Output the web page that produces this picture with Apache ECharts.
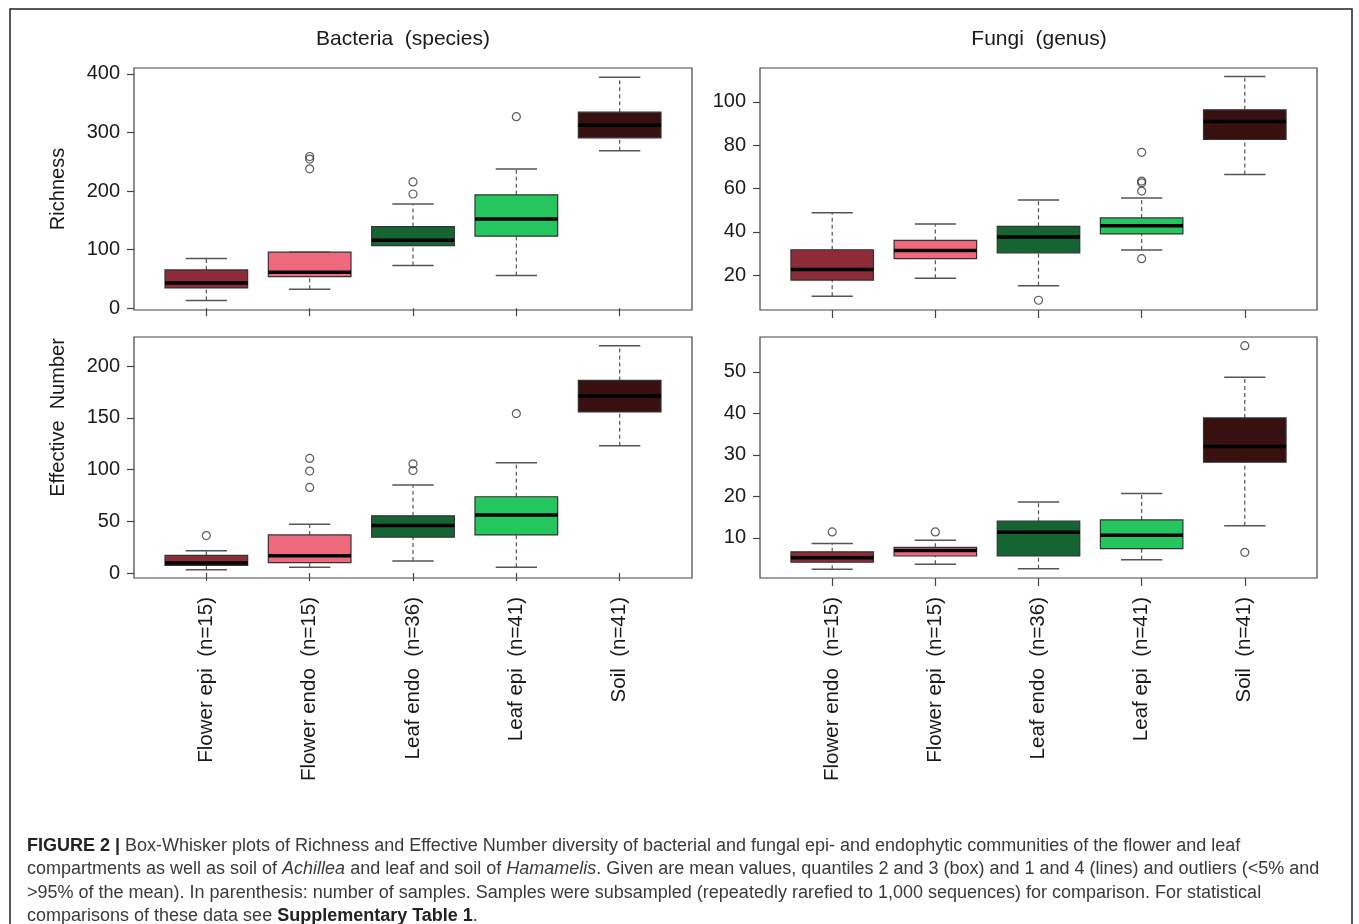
<!DOCTYPE html>
<html><head><meta charset="utf-8">
<script src="https://cdn.jsdelivr.net/npm/echarts@6/dist/echarts.min.js"></script>
<style>html,body{margin:0;padding:0;background:#fff}#c{width:1359px;height:924px}</style>
</head><body><div id="c"></div>
<script>
// ---------- data ----------
const bacteriaCategories = ['Flower epi  (n=15)', 'Flower endo  (n=15)', 'Leaf endo  (n=36)', 'Leaf epi  (n=41)', 'Soil  (n=41)'];
const fungiCategories = ['Flower endo  (n=15)', 'Flower epi  (n=15)', 'Leaf endo  (n=36)', 'Leaf epi  (n=41)', 'Soil  (n=41)'];
const boxColors = ['#8D2B38', '#EF697C', '#156532', '#24C65D', '#381010'];

// each box: [lower whisker, Q1, median, Q3, upper whisker]
const bacteriaRichness = [[13, 34.7, 43, 65.4, 85], [32.4, 54, 61.5, 95.6, 95.6], [72.8, 107, 116, 139.4, 178], [55.8, 123, 152.5, 193.5, 237.8], [268.6, 290.8, 312.4, 334.6, 394.3]];
const bacteriaRichnessOutliers = [[2, 259], [2, 254.5], [2, 238], [3, 215.6], [3, 195], [4, 327]];
const fungiRichness = [[10.3, 17.7, 22.6, 31.7, 48.8], [18.6, 27.6, 31.4, 36.0, 43.6], [15.1, 30.3, 37.6, 42.5, 54.7], [31.6, 39.0, 42.8, 46.4, 55.6], [66.4, 82.6, 90.9, 96.3, 111.7]];
const fungiRichnessOutliers = [[3, 8.4], [4, 76.7], [4, 63.4], [4, 62.6], [4, 58.8], [4, 27.6]];
const bacteriaEffective = [[3.2, 7.4, 9.8, 17.1, 21.6], [5.5, 10.0, 16.8, 36.8, 47.2], [11.6, 34.6, 45.9, 55.3, 85], [5.5, 36.8, 56.2, 73.7, 106.6], [123.1, 155.7, 171.2, 186.1, 219.7]];
const bacteriaEffectiveOutliers = [[1, 36.2], [2, 110.8], [2, 98.5], [2, 82.7], [3, 105.5], [3, 99], [4, 154.1]];
const fungiEffective = [[2.4, 4.1, 5.2, 6.6, 8.6], [3.6, 5.6, 6.9, 7.7, 9.4], [2.5, 5.6, 11.3, 14.0, 18.6], [4.7, 7.4, 10.6, 14.3, 20.7], [12.9, 28.2, 32.0, 38.9, 48.7]];
const fungiEffectiveOutliers = [[1, 11.4], [2, 11.4], [5, 56.3], [5, 6.5]];

const yTicksBR = [0, 100, 200, 300, 400];
const yTicksFR = [20, 40, 60, 80, 100];
const yTicksBE = [0, 50, 100, 150, 200];
const yTicksFE = [10, 20, 30, 40, 50];
const yRanges = [[-3, 410], [3.9, 115.6], [-4.8, 228.1], [0.3, 58.4]];

// ---------- chart ----------
const FONT = '"Liberation Sans", Arial, sans-serif';
const TXT = '#1a1a1a';
const chart = echarts.init(document.getElementById('c'), null, {renderer: 'canvas'});

const grids = [
  {left: 134, top: 68, width: 558, height: 242},
  {left: 760, top: 68, width: 557, height: 242},
  {left: 134, top: 337, width: 558, height: 241},
  {left: 760, top: 337, width: 557, height: 241}
].map(g => Object.assign(g, {show: true, borderColor: '#444', borderWidth: 1.2, backgroundColor: 'transparent'}));

const catIdx = [1, 2, 3, 4, 5];
function xAxisFor(gi, cats, showLabels) {
  return {
    type: 'value', gridIndex: gi, min: 0.3, max: 5.7,
    splitLine: {show: false}, axisLine: {show: false},
    axisTick: {show: true, customValues: catIdx, length: 8, lineStyle: {color: '#444', width: 1.2}},
    axisLabel: {show: showLabels, customValues: catIdx, rotate: 90, margin: 19, fontSize: 20.5, color: TXT, fontFamily: FONT,
      formatter: v => cats[Math.round(v) - 1]}
  };
}
function yAxisFor(gi, ticks, range, name, namePad) {
  return {
    type: 'value', gridIndex: gi, min: range[0], max: range[1],
    splitLine: {show: false}, axisLine: {show: false},
    axisTick: {show: true, customValues: ticks, length: 7, lineStyle: {color: '#444', width: 1.2}},
    axisLabel: {customValues: ticks, fontSize: 20, color: TXT, fontFamily: FONT, margin: 14},
    name: name || '', nameLocation: 'middle', nameGap: 66,
    nameTextStyle: {fontSize: 20, color: TXT, fontFamily: FONT, padding: namePad || 0}
  };
}

function boxData(arr) { return arr.map((b, i) => [i + 1].concat(b)); }

function renderBox(params, api) {
  const x = api.value(0);
  const lo = api.coord([x, api.value(1)]);
  const q1 = api.coord([x, api.value(2)]);
  const md = api.coord([x, api.value(3)]);
  const q3 = api.coord([x, api.value(4)]);
  const hi = api.coord([x, api.value(5)]);
  const bw = api.size([0.8, 0])[0];
  const sw = bw / 2;
  const cx = lo[0];
  const dash = {stroke: '#555', lineWidth: 1.2, lineDash: [4, 3]};
  const solid = {stroke: '#555', lineWidth: 1.5};
  return {
    type: 'group',
    children: [
      {type: 'line', shape: {x1: cx, y1: q3[1], x2: cx, y2: hi[1]}, style: dash},
      {type: 'line', shape: {x1: cx, y1: lo[1], x2: cx, y2: q1[1]}, style: dash},
      {type: 'line', shape: {x1: cx - sw / 2, y1: hi[1], x2: cx + sw / 2, y2: hi[1]}, style: solid},
      {type: 'line', shape: {x1: cx - sw / 2, y1: lo[1], x2: cx + sw / 2, y2: lo[1]}, style: solid},
      {type: 'rect', shape: {x: cx - bw / 2, y: q3[1], width: bw, height: q1[1] - q3[1]},
        style: {fill: boxColors[params.dataIndex], stroke: '#333', lineWidth: 1.2}},
      {type: 'line', shape: {x1: cx - bw / 2, y1: md[1], x2: cx + bw / 2, y2: md[1]}, style: {stroke: '#000', lineWidth: 3.5}}
    ]
  };
}

function boxSeries(gi, arr) {
  return {type: 'custom', xAxisIndex: gi, yAxisIndex: gi, data: boxData(arr), renderItem: renderBox,
    encode: {x: 0, y: [1, 2, 3, 4, 5]}, clip: false, silent: true};
}
function outlierSeries(gi, arr) {
  return {type: 'scatter', xAxisIndex: gi, yAxisIndex: gi, data: arr, symbol: 'circle', symbolSize: 8,
    itemStyle: {color: 'rgba(0,0,0,0)', borderColor: '#333', borderWidth: 1.2}, silent: true, z: 5};
}

const caption =
  '{b|FIGURE 2 |} Box-Whisker plots of Richness and Effective Number diversity of bacterial and fungal epi- and endophytic communities of the flower and leaf\n' +
  'compartments as well as soil of {i|Achillea} and leaf and soil of {i|Hamamelis}. Given are mean values, quantiles 2 and 3 (box) and 1 and 4 (lines) and outliers (<5% and\n' +
  '>95% of the mean). In parenthesis: number of samples. Samples were subsampled (repeatedly rarefied to 1,000 sequences) for comparison. For statistical\n' +
  'comparisons of these data see {b|Supplementary Table 1}.';

chart.setOption({
  animation: false,
  backgroundColor: '#fff',
  title: [
    {text: 'Bacteria  (species)', left: 398, top: 24, textAlign: 'center', textStyle: {fontSize: 21, fontWeight: 'normal', color: TXT, fontFamily: FONT}},
    {text: 'Fungi  (genus)', left: 1034, top: 24, textAlign: 'center', textStyle: {fontSize: 21, fontWeight: 'normal', color: TXT, fontFamily: FONT}}
  ],
  grid: grids,
  xAxis: [
    xAxisFor(0, bacteriaCategories, false),
    xAxisFor(1, fungiCategories, false),
    xAxisFor(2, bacteriaCategories, true),
    xAxisFor(3, fungiCategories, true)
  ],
  yAxis: [
    yAxisFor(0, yTicksBR, yRanges[0], 'Richness'),
    yAxisFor(1, yTicksFR, yRanges[1]),
    yAxisFor(2, yTicksBE, yRanges[2], 'Effective  Number', [0, 0, 0, 80]),
    yAxisFor(3, yTicksFE, yRanges[3])
  ],
  series: [
    boxSeries(0, bacteriaRichness), outlierSeries(0, bacteriaRichnessOutliers),
    boxSeries(1, fungiRichness), outlierSeries(1, fungiRichnessOutliers),
    boxSeries(2, bacteriaEffective), outlierSeries(2, bacteriaEffectiveOutliers),
    boxSeries(3, fungiEffective), outlierSeries(3, fungiEffectiveOutliers)
  ],
  graphic: [
    {type: 'rect', silent: true, shape: {x: 10, y: 9, width: 1342, height: 1000},
      style: {fill: 'none', stroke: '#222', lineWidth: 1.5}},
    {type: 'text', left: 27, top: 834, silent: true,
      style: {text: caption, fontSize: 18, fontFamily: FONT, fill: '#3a3a3a', lineHeight: 23.5,
        rich: {
          b: {fontWeight: 'bold', fill: '#222', fontSize: 18, fontFamily: FONT, lineHeight: 23.5},
          i: {fontStyle: 'italic', fill: '#3a3a3a', fontSize: 18, fontFamily: FONT, lineHeight: 23.5}
        }}}
  ]
});
</script></body></html>
